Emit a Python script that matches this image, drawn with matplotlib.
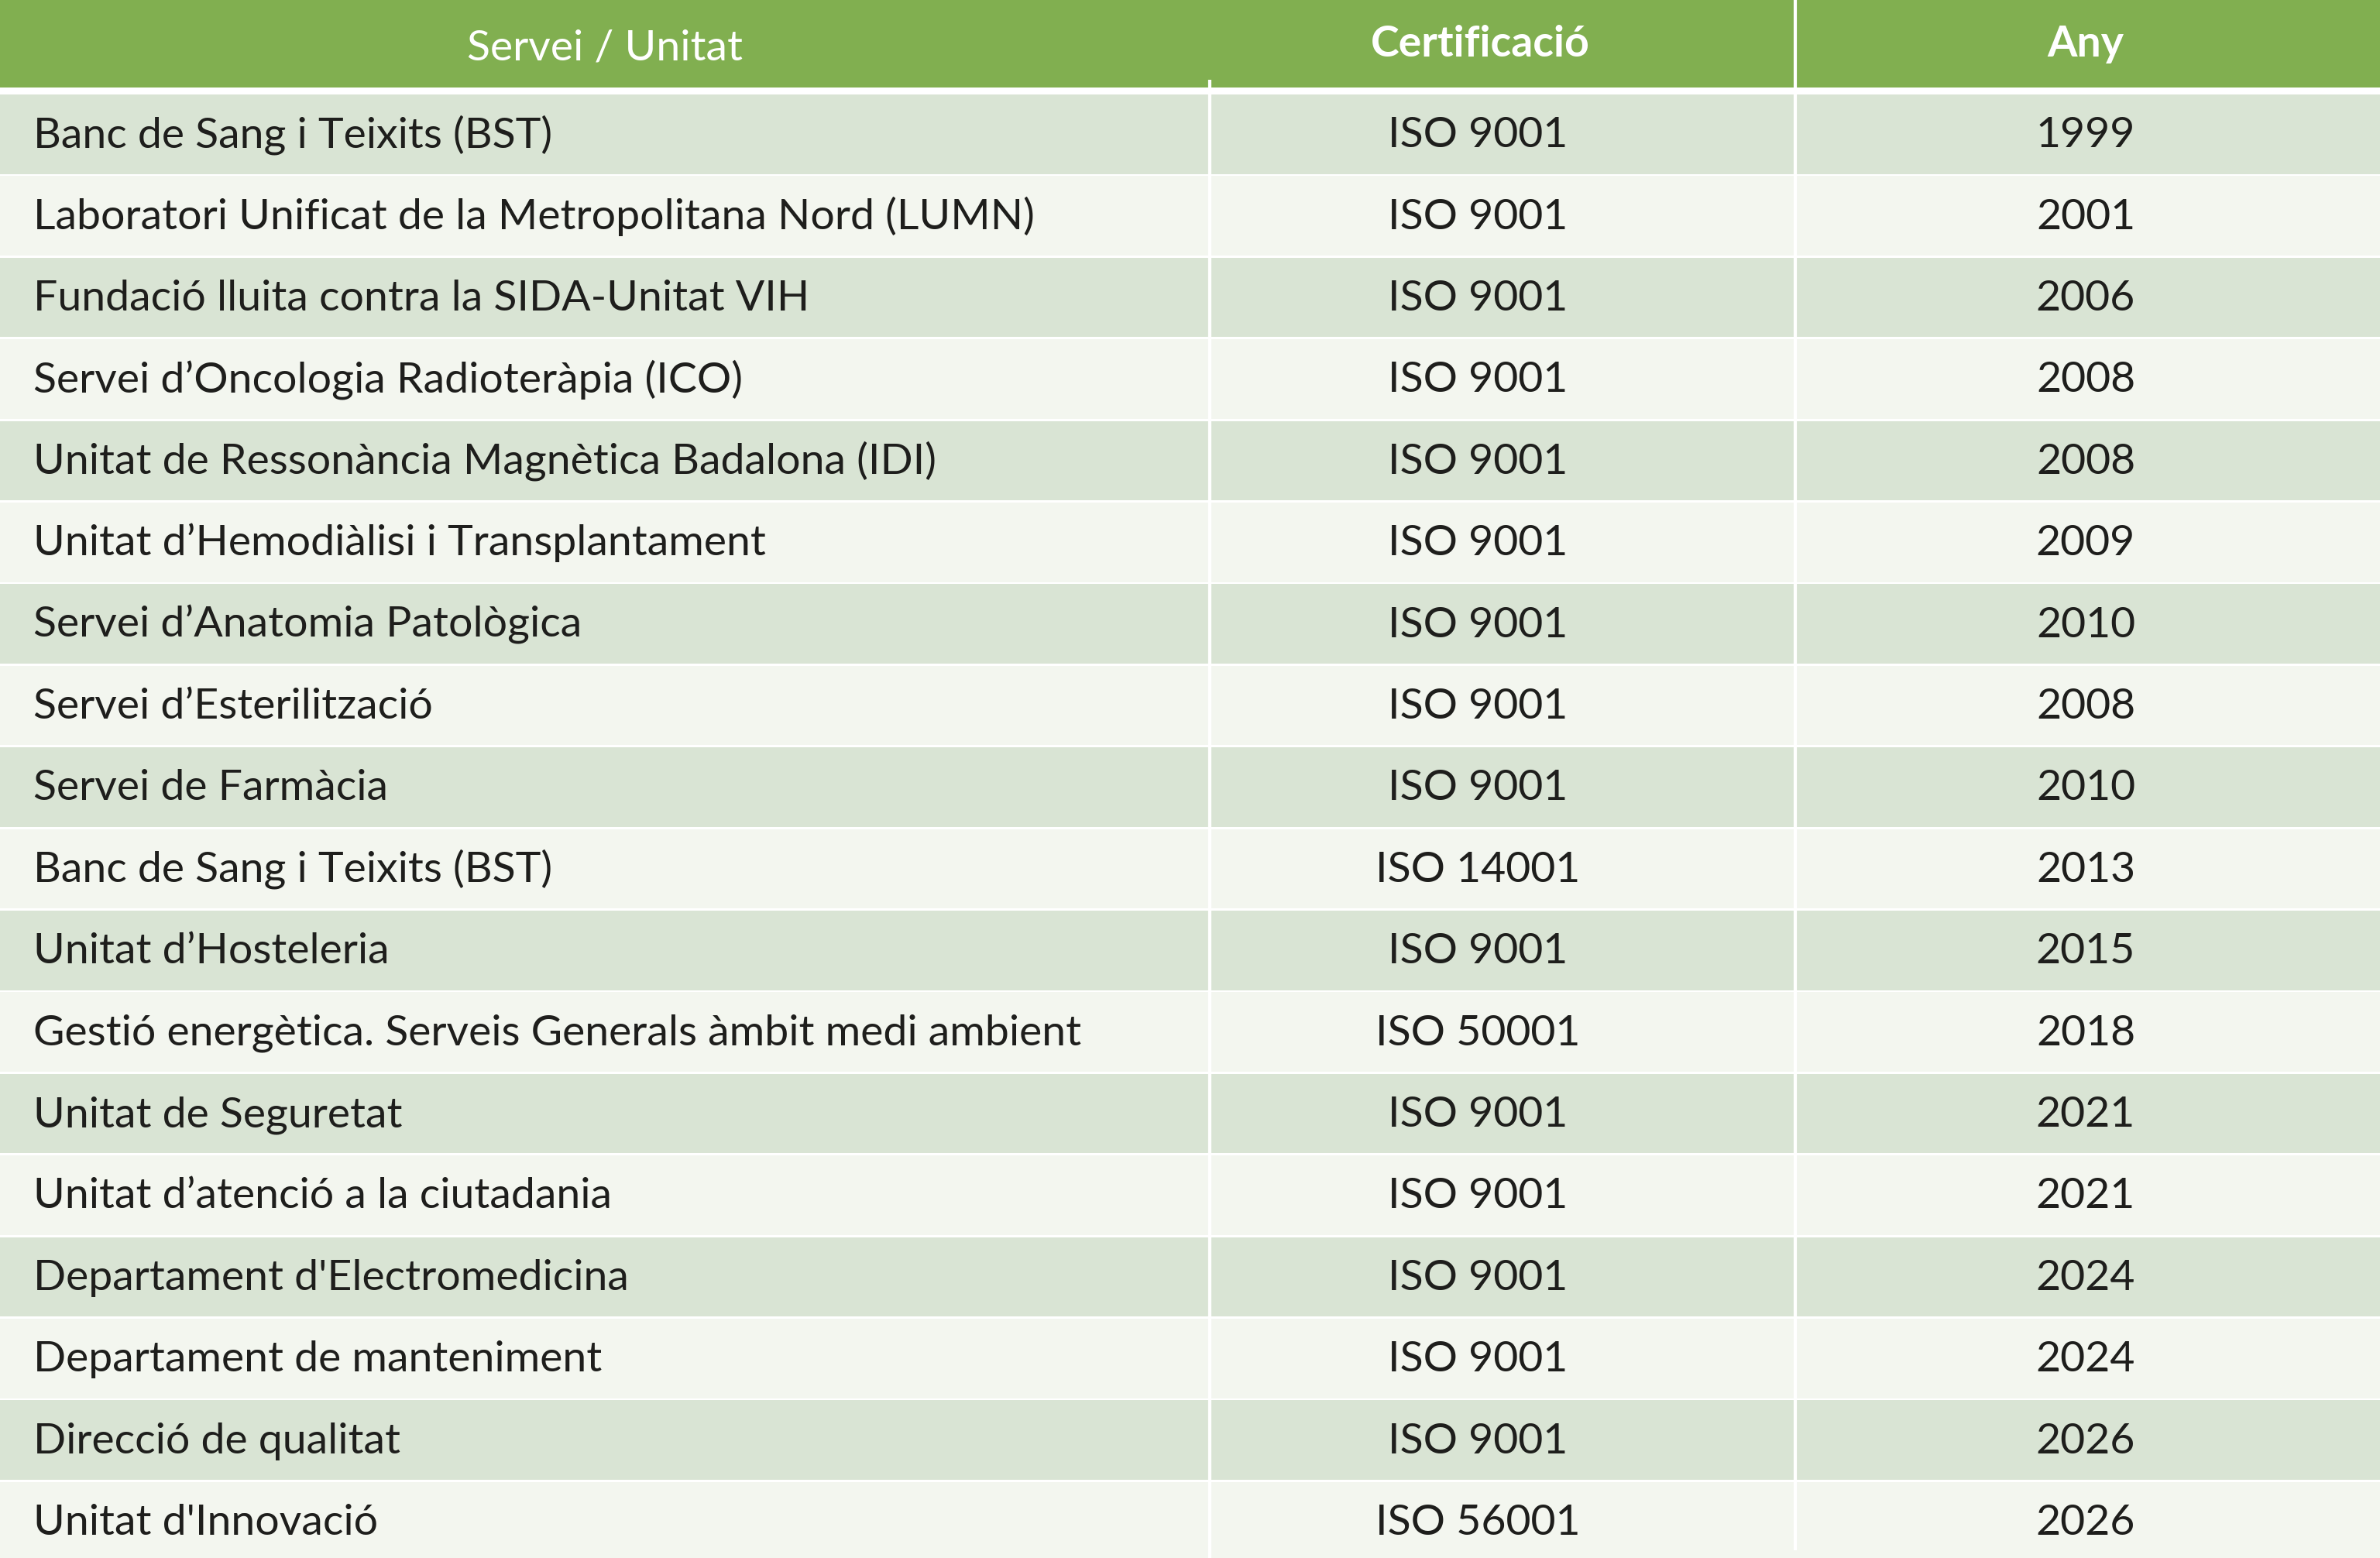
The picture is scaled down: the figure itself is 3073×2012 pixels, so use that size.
import matplotlib
matplotlib.use("Agg")
import matplotlib.pyplot as plt
from matplotlib.patches import Rectangle

# table contents
headers = ["Servei / Unitat", "Certificació", "Any"]
serveis = [
    "Banc de Sang i Teixits (BST)",
    "Laboratori Unificat de la Metropolitana Nord (LUMN)",
    "Fundació lluita contra la SIDA-Unitat VIH",
    "Servei d’Oncologia Radioteràpia (ICO)",
    "Unitat de Ressonància Magnètica Badalona (IDI)",
    "Unitat d’Hemodiàlisi i Transplantament",
    "Servei d’Anatomia Patològica",
    "Servei d’Esterilització",
    "Servei de Farmàcia",
    "Banc de Sang i Teixits (BST)",
    "Unitat d’Hosteleria",
    "Gestió energètica. Serveis Generals àmbit medi ambient",
    "Unitat de Seguretat",
    "Unitat d’atenció a la ciutadania",
    "Departament d'Electromedicina",
    "Departament de manteniment",
    "Direcció de qualitat",
    "Unitat d'Innovació",
]
certificacions = [
    "ISO 9001", "ISO 9001", "ISO 9001", "ISO 9001", "ISO 9001", "ISO 9001",
    "ISO 9001", "ISO 9001", "ISO 9001", "ISO 14001", "ISO 9001", "ISO 50001",
    "ISO 9001", "ISO 9001", "ISO 9001", "ISO 9001", "ISO 9001", "ISO 56001",
]
anys = [1999, 2001, 2006, 2008, 2008, 2009, 2010, 2008, 2010,
        2013, 2015, 2018, 2021, 2021, 2024, 2024, 2026, 2026]

# layout (pixels of the 3073x2012 canvas)
W, H = 3073, 2012
HEADER_H = 113
ROW_TOP = 122
ROW_PITCH = 105.4
ROW_H = 102.5
COL1_X = 1562
COL2_X = 2318
LEFT_PAD = 43
CERT_CX = 1908
ANY_CX = 2693

GREEN = "#81AF50"
ROW_DARK = "#D9E4D4"
ROW_LIGHT = "#F3F6EF"
TEXT_COLOR = "#1E1E1C"
FONT = "Lato"
FS = 39.9

fig = plt.figure(figsize=(W / 100, H / 100), dpi=100)
ax = fig.add_axes([0, 0, 1, 1])
ax.set_xlim(0, W)
ax.set_ylim(H, 0)
ax.axis("off")
fig.patch.set_facecolor("white")

# header
ax.add_patch(Rectangle((0, 0), W, HEADER_H, facecolor=GREEN, edgecolor="none"))
ax.text(781, 77, headers[0], color="white", fontsize=FS, family=FONT, ha="center", va="baseline")
ax.text(1911, 73, headers[1], color="white", fontsize=FS, family=FONT, fontweight="bold", ha="center", va="baseline")
ax.text(ANY_CX, 73, headers[2], color="white", fontsize=FS, family=FONT, fontweight="bold", ha="center", va="baseline")

# rows
for i, (srv, cert, yr) in enumerate(zip(serveis, certificacions, anys)):
    top = ROW_TOP + i * ROW_PITCH
    color = ROW_DARK if i % 2 == 0 else ROW_LIGHT
    ax.add_patch(Rectangle((0, top), W, ROW_H, facecolor=color, edgecolor="none"))
    base = top + ROW_H / 2 + 17
    ax.text(LEFT_PAD, base, srv, color=TEXT_COLOR, fontsize=FS, family=FONT, ha="left", va="baseline")
    ax.text(CERT_CX, base, cert, color=TEXT_COLOR, fontsize=FS, family=FONT, ha="center", va="baseline")
    ax.text(ANY_CX, base, str(yr), color=TEXT_COLOR, fontsize=FS, family=FONT, ha="center", va="baseline")

# column dividers
ax.plot([COL1_X, COL1_X], [103, H], color="white", lw=3, solid_capstyle="butt")
ax.plot([COL2_X, COL2_X], [0, 2002], color="white", lw=3, solid_capstyle="butt")

fig.savefig("out.png", dpi=100, facecolor="white")
